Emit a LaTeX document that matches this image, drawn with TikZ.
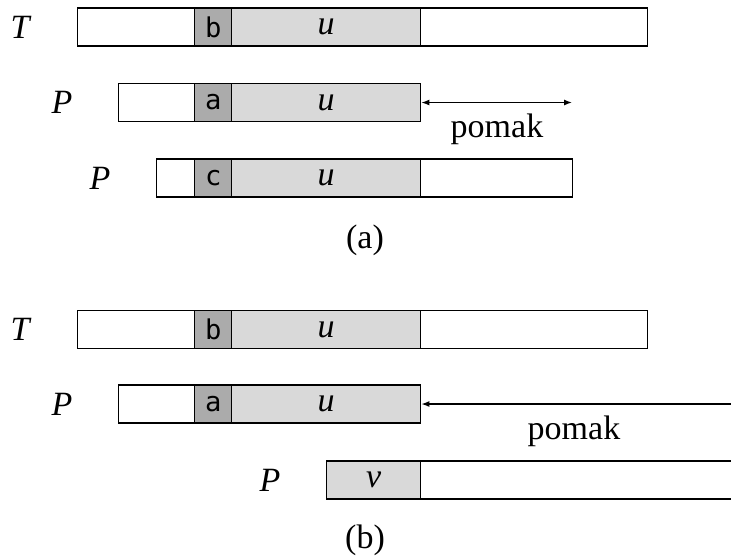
\documentclass[tikz,border=0pt]{standalone}
\usepackage{fontspec}
\setmainfont{Liberation Serif}
\setmonofont{DejaVu Sans Mono}[Scale=0.8]
\usetikzlibrary{arrows.meta}

\newcommand\picsize{\fontsize{17}{19}\selectfont}

\tikzset{
  box/.style={draw, line width=0.7pt, inner sep=0pt, minimum height=19pt, anchor=west},
  dark/.style={box, fill=black!33, font=\picsize\ttfamily},
  light/.style={box, fill=black!15, font=\picsize\itshape},
  lbl/.style={font=\picsize\itshape},
  pomakboth/.style={line width=0.6pt, {Latex[length=4pt,width=3pt]}-{Latex[length=4pt,width=3pt]}},
  pomakleft/.style={line width=0.6pt, {Latex[length=4pt,width=3pt]}-}
}

\begin{document}
\begin{tikzpicture}[x=0.5pt, y=-0.5pt, font=\picsize]
			%%%%% START %%%%%
			\useasboundingbox (0,0) rectangle (731,558);
			
			% (a)
			\node[box, minimum width=285pt] (ta) at (77,27) {};
			\node[dark, minimum width=18.5pt] (tab) at (194,27) {b};
			\node[light, minimum width=94.5pt] (tau) at (231,27) {u};
			\node[lbl] (tal) at (20,27) {T};
			
			\node[box, minimum width=151pt] (pa) at (118,102.5) {};
			\node[dark, minimum width=18.5pt] (paa) at (194,102.5) {a};
			\node[light, minimum width=94.5pt] (pau) at (231,102.5) {u};
			\node[lbl] (pal) at (62,102.5) {P};
			
			\coordinate (pae) at (572,102.5);
			\draw[pomakboth] (pau.east) -- (pae);
			\node (pam) at (497,129) {pomak};
			
			\node[box, minimum width=208pt] (qa) at (156,178) {};
			\node[dark, minimum width=18.5pt] (qac) at (194,178) {c};
			\node[light, minimum width=94.5pt] (qau) at (231,178) {u};
			\node[lbl] (qal) at (100,178) {P};
			
			\node (capa) at (365,240) {(a)};
			
			% (b)
			\node[box, minimum width=285pt] (tb) at (77,329.5) {};
			\node[dark, minimum width=18.5pt] (tbb) at (194,329.5) {b};
			\node[light, minimum width=94.5pt] (tbu) at (231,329.5) {u};
			\node[lbl] (tbl) at (20,329.5) {T};
			
			\node[box, minimum width=151pt] (pb) at (118,404) {};
			\node[dark, minimum width=18.5pt] (pba) at (194,404) {a};
			\node[light, minimum width=94.5pt] (pbu) at (231,404) {u};
			\node[lbl] (pbl) at (62,404) {P};
			
			\coordinate (pbe) at (731,404);
			\draw[pomakleft] (pbu.east) -- (pbe);
			\node (pbm) at (574,431) {pomak};
			
			\node[box, minimum width=210pt] (qb) at (326,480) {};
			\node[light, minimum width=47pt] (qbv) at (326,480) {v};
			\node[lbl] (qbl) at (270,480) {P};
			
			\node (capb) at (365,540) {(b)};
			%%%%% END %%%%%
\end{tikzpicture}
\end{document}
